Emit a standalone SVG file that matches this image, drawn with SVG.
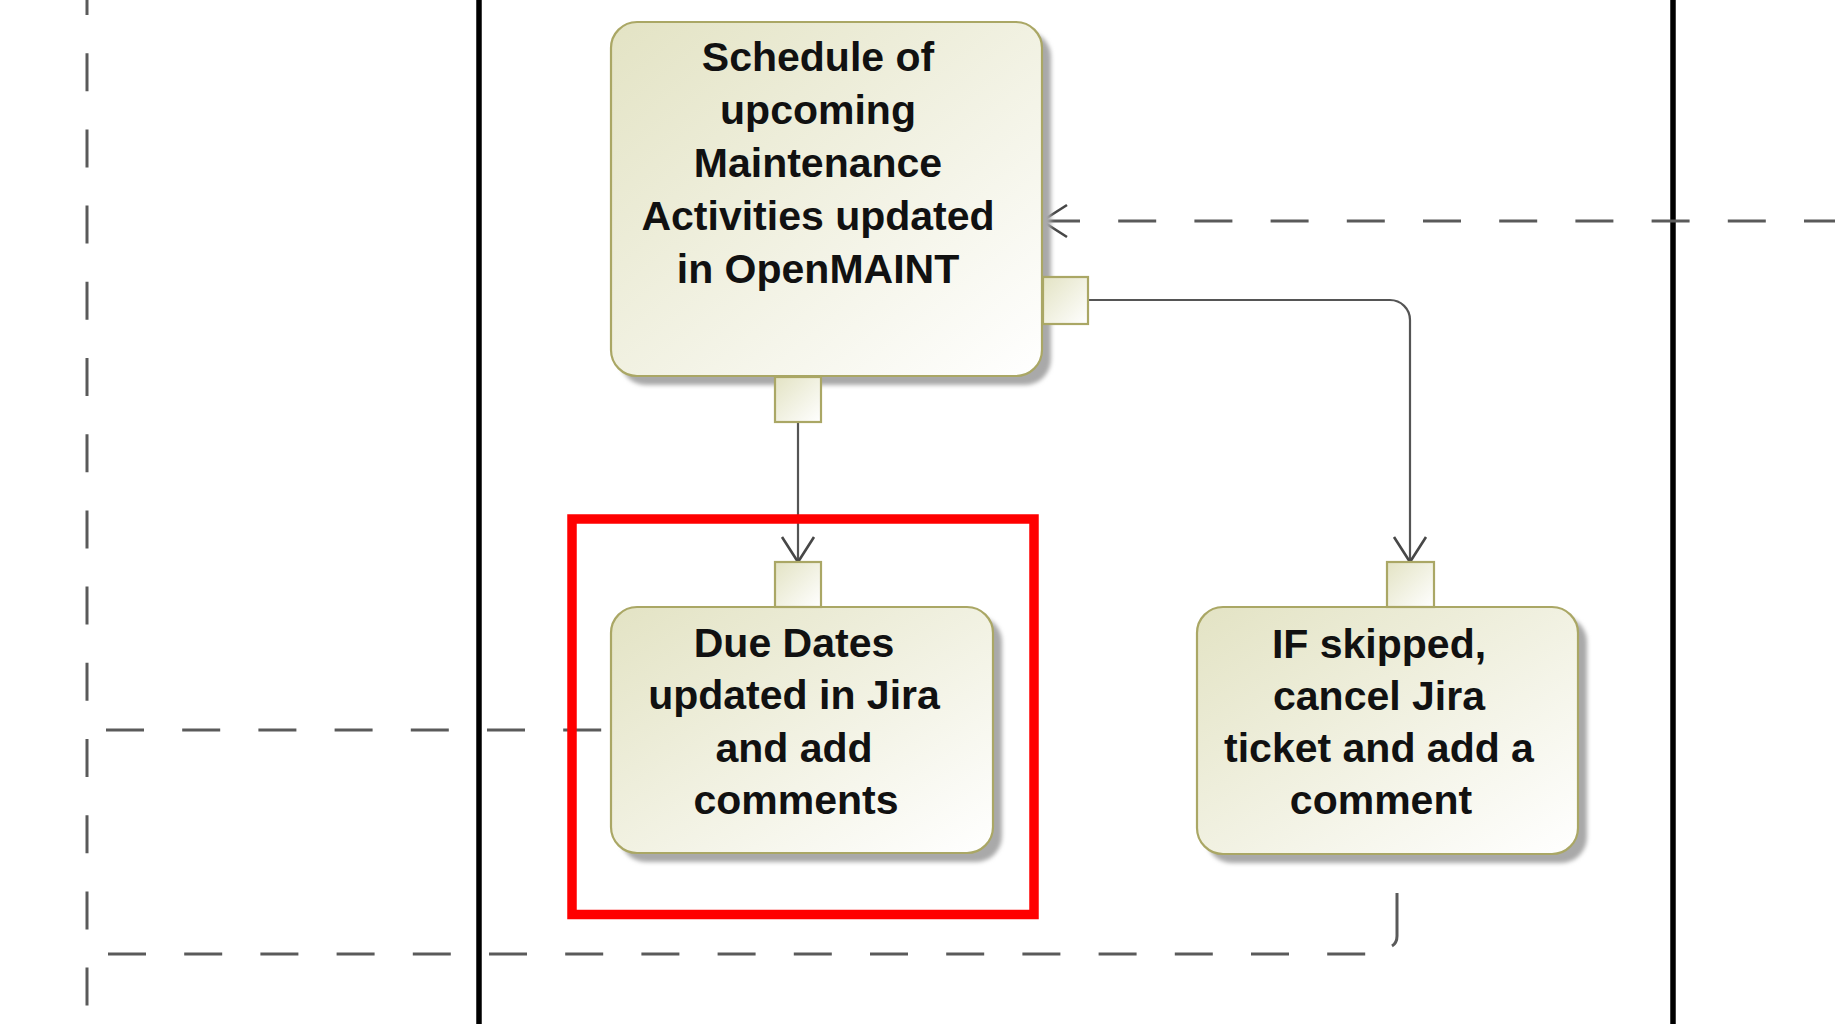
<svg xmlns="http://www.w3.org/2000/svg" width="1835" height="1024" viewBox="0 0 1835 1024">
<style>
.lane{stroke:#000;stroke-width:5.5;fill:none}
.dash{stroke:#5a5a5a;stroke-width:3;fill:none;stroke-dasharray:38 38.2}
.flow{stroke:#555;stroke-width:2.2;fill:none}
.box{fill:url(#fillG);stroke:#aaa765;stroke-width:2.2}
.pin{fill:url(#fillG);stroke:#aaa765;stroke-width:2.2}
.shadow{fill:#a9a9a9;filter:url(#blur)}
.lbl{font-family:"Liberation Sans",Arial,sans-serif;font-weight:bold;font-size:41px;fill:#111;text-anchor:middle}
.hl{fill:none;stroke:#ff0000;stroke-width:9.5}
</style>
<defs>
<linearGradient id="fillG" x1="0" y1="0" x2="1" y2="1">
<stop offset="0" stop-color="#e3e3c4"/>
<stop offset="1" stop-color="#ffffff"/>
</linearGradient>
<filter id="blur" x="-5%" y="-5%" width="110%" height="110%"><feGaussianBlur stdDeviation="2"/></filter>
<marker id="arrEnd" markerUnits="userSpaceOnUse" markerWidth="40" markerHeight="40" viewBox="-30 -20 40 40" refX="0" refY="0" orient="auto">
<path d="M-25,-16 L0,0 L-25,16" fill="none" stroke="#474747" stroke-width="2.6"/>
</marker>
<marker id="arrStart" markerUnits="userSpaceOnUse" markerWidth="40" markerHeight="40" viewBox="-10 -20 40 40" refX="0" refY="0" orient="auto">
<path d="M25,-16 L0,0 L25,16" fill="none" stroke="#474747" stroke-width="2.6"/>
</marker>
</defs>
<rect width="1835" height="1024" fill="#ffffff"/>
<g id="background">
<path class="dash" d="M87,-23 V1024"/>
<path class="lane" d="M479,0 V1024"/>
<path class="lane" d="M1673,0 V1024"/>
</g>
<g id="connectors">
<path class="dash" d="M1042,221 H1835" marker-start="url(#arrStart)"/>
<path class="dash" d="M106,730 H609"/>
<path class="dash" d="M108,954 H1385"/>
<path class="flow" style="stroke:#5a5a5a;stroke-width:3" d="M1397,893 V936 Q1397,943 1392,946"/>
<path class="flow" d="M798,422 V562" marker-end="url(#arrEnd)"/>
<path class="flow" d="M1088,300 H1390 A20,20 0 0 1 1410,320 V562" marker-end="url(#arrEnd)"/>
</g>
<g id="node-schedule">
<rect class="shadow" x="620" y="31" width="431" height="354" rx="26"/>
<rect class="box" x="611" y="22" width="431" height="354" rx="26"/>
<text class="lbl" x="818" y="71">Schedule of</text>
<text class="lbl" x="818" y="124">upcoming</text>
<text class="lbl" x="818" y="177">Maintenance</text>
<text class="lbl" x="818" y="230">Activities updated</text>
<text class="lbl" x="818" y="283">in OpenMAINT</text>
<rect class="pin" x="775" y="377" width="46" height="45"/>
<rect class="pin" x="1043" y="277" width="45" height="47"/>
</g>
<g id="node-duedates">
<rect class="shadow" x="620" y="616" width="382" height="246" rx="26"/>
<rect class="box" x="611" y="607" width="382" height="246" rx="26"/>
<rect class="pin" x="775" y="562" width="46" height="45"/>
<text class="lbl" x="794" y="657">Due Dates</text>
<text class="lbl" x="794" y="709">updated in Jira</text>
<text class="lbl" x="794" y="762">and add</text>
<text class="lbl" x="796" y="814">comments</text>
</g>
<g id="node-skipped">
<rect class="shadow" x="1206" y="616" width="381" height="247" rx="26"/>
<rect class="box" x="1197" y="607" width="381" height="247" rx="26"/>
<rect class="pin" x="1387" y="562" width="47" height="45"/>
<text class="lbl" x="1379" y="658">IF skipped,</text>
<text class="lbl" x="1379" y="710">cancel Jira</text>
<text class="lbl" x="1379" y="762">ticket and add a</text>
<text class="lbl" x="1381" y="814">comment</text>
</g>
<g id="highlight">
<rect class="hl" x="572" y="519" width="462" height="395.5"/>
</g>
</svg>
